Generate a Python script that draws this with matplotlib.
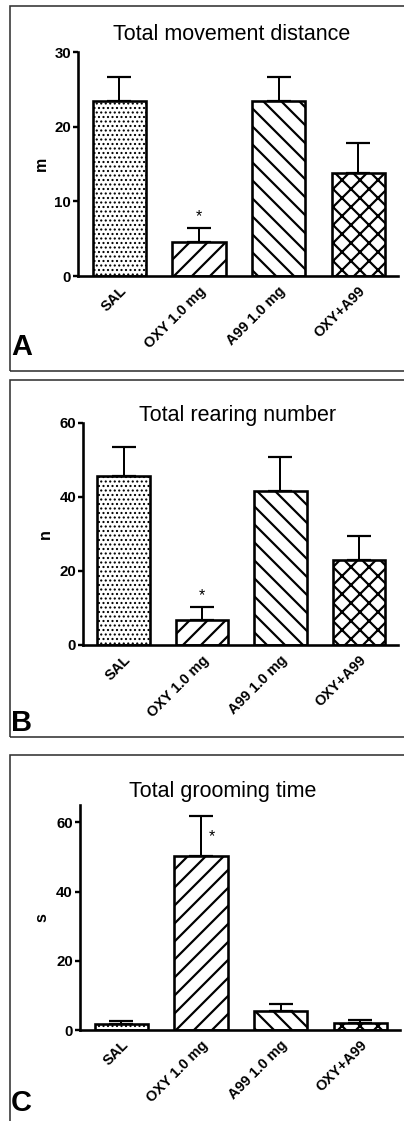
import matplotlib
matplotlib.use('Agg')
from matplotlib import pyplot as plt
from matplotlib.patches import Rectangle

# group names, shared by all three panels
groups = ['SAL', 'OXY 1.0 mg', 'A99 1.0 mg', 'OXY+A99']

# A: total movement distance (m), mean and SEM
dist_mean = [23.4, 4.5, 23.4, 13.8]
dist_sem = [3.2, 1.9, 3.2, 4.0]

# B: total rearing number, mean and SEM
rear_mean = [45.6, 6.8, 41.5, 22.9]
rear_sem = [7.9, 3.5, 9.3, 6.5]

# C: total grooming time (s), mean and SEM
groom_mean = [1.7, 50.4, 5.5, 1.9]
groom_sem = [1.0, 11.5, 2.0, 1.0]

hatches = ['....', '//', '\\\\', 'xx']

W, H = 404, 1121
# hatch tiles are one inch wide, so the dpi sets the hatch spacing
DPI = 108


def pt(v):
    # pixel size -> points at this dpi
    return v * 72.0 / DPI


plt.rcParams['font.family'] = ['Liberation Sans', 'DejaVu Sans']
plt.rcParams['hatch.linewidth'] = pt(2.2)

fig = plt.figure(figsize=(W / DPI, H / DPI), dpi=DPI)


def px_axes(left, top, right, bottom):
    # axes placed by pixel edges (y counted from the top)
    return fig.add_axes([left / W, 1 - bottom / H, (right - left) / W, (bottom - top) / H])


def panel_box(top, bottom):
    fig.add_artist(Rectangle((10 / W, 1 - bottom / H), 500 / W, (bottom - top) / H,
                             transform=fig.transFigure, fill=False,
                             edgecolor='#333333', linewidth=pt(1.6)))


def draw_panel(ax, means, sems, ymax, yticks, ylabel, label_x, title, title_xy,
               letter, letter_xy, star):
    x = list(range(len(groups)))
    ax.errorbar(x, means, yerr=[[0] * len(sems), sems], fmt='none', ecolor='black',
                elinewidth=pt(2), capsize=pt(12), capthick=pt(2.2), zorder=1)
    bars = ax.bar(x, means, width=0.67, color='white', edgecolor='black',
                  linewidth=pt(2.6), zorder=2)
    for b, h in zip(bars, hatches):
        b.set_hatch(h)
        # finer dots for the saline bar
        if h.startswith('.') and hasattr(b, 'set_hatch_linewidth'):
            b.set_hatch_linewidth(pt(1.3))
    ax.set_xlim(-0.52, 3.5)
    ax.set_ylim(0, ymax)
    ax.set_yticks(yticks)
    ax.set_yticklabels([str(t) for t in yticks], fontsize=pt(15), fontweight='bold')
    ax.set_xticks(x)
    ax.set_xticklabels(groups, rotation=45, ha='right', va='top', rotation_mode='anchor',
                       fontsize=pt(14.5), fontweight='bold')
    ax.tick_params(axis='y', direction='out', length=pt(5), width=pt(2.4), pad=pt(2))
    ax.tick_params(axis='x', length=0, pad=pt(8))
    for s in ['top', 'right']:
        ax.spines[s].set_visible(False)
    for s in ['left', 'bottom']:
        ax.spines[s].set_linewidth(pt(2.6))
    ax.set_ylabel(ylabel, fontsize=pt(16), fontweight='bold')
    ax.yaxis.set_label_coords(label_x, 0.5)
    fig.text(title_xy[0] / W, 1 - title_xy[1] / H, title, fontsize=pt(21.5),
             ha='center', va='center')
    fig.text(letter_xy[0] / W, 1 - letter_xy[1] / H, letter, fontsize=pt(29),
             fontweight='bold', ha='left', va='center')
    ax.text(star[0], star[1], '*', fontsize=pt(16), ha='center', va='center')


panel_box(6, 371)
panel_box(380, 737)
panel_box(755, 1200)

axA = px_axes(78, 52, 398, 276)
draw_panel(axA, dist_mean, dist_sem, 30, [0, 10, 20, 30], 'm', -0.09,
           'Total movement distance', (232, 35), 'A', (11, 347), (1, 8.0))

axB = px_axes(83, 423, 398, 645)
draw_panel(axB, rear_mean, rear_sem, 60, [0, 20, 40, 60], 'n', -0.095,
           'Total rearing number', (238, 415), 'B', (11, 723), (1, 13.3))

axC = px_axes(80, 805, 400, 1030)
draw_panel(axC, groom_mean, groom_sem, 65, [0, 20, 40, 60], 's', -0.095,
           'Total grooming time', (223, 792), 'C', (11, 1103), (1.14, 56.0))

fig.savefig('out.png', dpi=DPI)
